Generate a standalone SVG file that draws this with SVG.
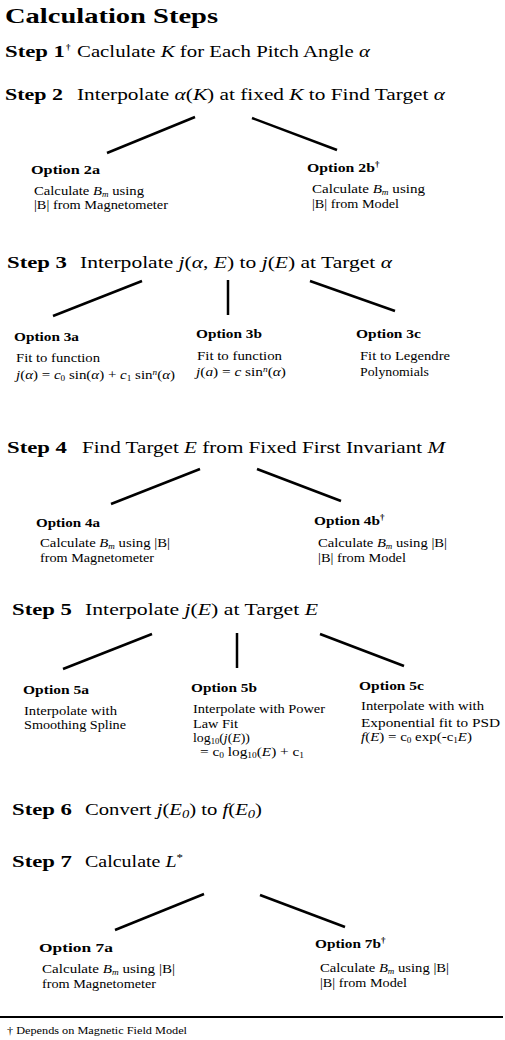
<svg xmlns="http://www.w3.org/2000/svg" width="505" height="1040" viewBox="0 0 505 1040">
<style>
text{font-family:"Liberation Serif","Times New Roman",serif;fill:#000}
.title{font-size:21px;font-weight:bold}
.step{font-size:17px;font-weight:bold}
.desc{font-size:17px}
.opt{font-size:13px;font-weight:bold}
.body{font-size:13px}
.foot{font-size:10px}
.it{font-style:italic}
.sub{font-size:8px}
.sup{font-size:8px}
.dag{font-size:9px;font-weight:bold}
.conn line{stroke:#000;stroke-width:2.5;stroke-linecap:butt}
</style>
<rect width="505" height="1040" fill="#fff"/>
<text id="title" class="title" x="5" y="23" textLength="213" lengthAdjust="spacingAndGlyphs">Calculation Steps</text>

<g id="step1">
<text class="step" x="5" y="57" textLength="60" lengthAdjust="spacingAndGlyphs">Step 1</text><text class="dag" x="66" y="50">†</text>
<text class="desc" x="77" y="57" textLength="293" lengthAdjust="spacingAndGlyphs">Caclulate <tspan class="it">K</tspan> for Each Pitch Angle <tspan class="it">α</tspan></text>
</g>
<g id="step2">
<text class="step" x="5" y="100" textLength="58" lengthAdjust="spacingAndGlyphs">Step 2</text>
<text class="desc" x="77" y="100" textLength="368" lengthAdjust="spacingAndGlyphs">Interpolate <tspan class="it">α</tspan>(<tspan class="it">K</tspan>) at fixed <tspan class="it">K</tspan> to Find Target <tspan class="it">α</tspan></text>
</g>
<g id="opt2a">
<text class="opt" x="31" y="174" textLength="69" lengthAdjust="spacingAndGlyphs">Option 2a</text>
<text class="body" x="34" y="195" textLength="110" lengthAdjust="spacingAndGlyphs">Calculate <tspan class="it">B</tspan><tspan class="it sub" baseline-shift="-2">m</tspan> using</text>
<text class="body" x="34" y="209" textLength="134" lengthAdjust="spacingAndGlyphs">|B| from Magnetometer</text>
</g>
<g id="opt2b">
<text class="opt" x="307" y="172" textLength="68" lengthAdjust="spacingAndGlyphs">Option 2b</text><text class="dag" x="375" y="167">†</text>
<text class="body" x="312" y="193" textLength="113" lengthAdjust="spacingAndGlyphs">Calculate <tspan class="it">B</tspan><tspan class="it sub" baseline-shift="-2">m</tspan> using</text>
<text class="body" x="312" y="208" textLength="87" lengthAdjust="spacingAndGlyphs">|B| from Model</text>
</g>

<g id="step3">
<text class="step" x="7" y="268" textLength="60" lengthAdjust="spacingAndGlyphs">Step 3</text>
<text class="desc" x="80" y="268" textLength="312" lengthAdjust="spacingAndGlyphs">Interpolate <tspan class="it">j</tspan>(<tspan class="it">α</tspan>, <tspan class="it">E</tspan>) to <tspan class="it">j</tspan>(<tspan class="it">E</tspan>) at Target <tspan class="it">α</tspan></text>
</g>
<g id="opt3a">
<text class="opt" x="14" y="341" textLength="65" lengthAdjust="spacingAndGlyphs">Option 3a</text>
<text class="body" x="16" y="362" textLength="84" lengthAdjust="spacingAndGlyphs">Fit to function</text>
<text class="body" x="16" y="379" textLength="159" lengthAdjust="spacingAndGlyphs"><tspan class="it">j</tspan>(<tspan class="it">α</tspan>) = <tspan class="it">c</tspan><tspan class="sub" baseline-shift="-2">0</tspan> sin(<tspan class="it">α</tspan>) + <tspan class="it">c</tspan><tspan class="sub" baseline-shift="-2">1</tspan> sin<tspan class="it sup" baseline-shift="4">n</tspan>(<tspan class="it">α</tspan>)</text>
</g>
<g id="opt3b">
<text class="opt" x="196" y="338" textLength="66" lengthAdjust="spacingAndGlyphs">Option 3b</text>
<text class="body" x="197" y="360" textLength="85" lengthAdjust="spacingAndGlyphs">Fit to function</text>
<text class="body" x="196" y="376" textLength="90" lengthAdjust="spacingAndGlyphs"><tspan class="it">j</tspan>(<tspan class="it">a</tspan>) = <tspan class="it">c</tspan> sin<tspan class="it sup" baseline-shift="4">n</tspan>(<tspan class="it">α</tspan>)</text>
</g>
<g id="opt3c">
<text class="opt" x="356" y="338" textLength="65" lengthAdjust="spacingAndGlyphs">Option 3c</text>
<text class="body" x="360" y="360" textLength="90" lengthAdjust="spacingAndGlyphs">Fit to Legendre</text>
<text class="body" x="360" y="376" textLength="69" lengthAdjust="spacingAndGlyphs">Polynomials</text>
</g>

<g id="step4">
<text class="step" x="7" y="453" textLength="60" lengthAdjust="spacingAndGlyphs">Step 4</text>
<text class="desc" x="82" y="453" textLength="363" lengthAdjust="spacingAndGlyphs">Find Target <tspan class="it">E</tspan> from Fixed First Invariant <tspan class="it">M</tspan></text>
</g>
<g id="opt4a">
<text class="opt" x="36" y="527" textLength="64" lengthAdjust="spacingAndGlyphs">Option 4a</text>
<text class="body" x="40" y="547" textLength="130" lengthAdjust="spacingAndGlyphs">Calculate <tspan class="it">B</tspan><tspan class="it sub" baseline-shift="-2">m</tspan> using |B|</text>
<text class="body" x="40" y="562" textLength="114" lengthAdjust="spacingAndGlyphs">from Magnetometer</text>
</g>
<g id="opt4b">
<text class="opt" x="314" y="525" textLength="66" lengthAdjust="spacingAndGlyphs">Option 4b</text><text class="dag" x="380" y="520">†</text>
<text class="body" x="318" y="547" textLength="129" lengthAdjust="spacingAndGlyphs">Calculate <tspan class="it">B</tspan><tspan class="it sub" baseline-shift="-2">m</tspan> using |B|</text>
<text class="body" x="318" y="562" textLength="88" lengthAdjust="spacingAndGlyphs">|B| from Model</text>
</g>

<g id="step5">
<text class="step" x="12" y="615" textLength="60" lengthAdjust="spacingAndGlyphs">Step 5</text>
<text class="desc" x="85" y="615" textLength="233" lengthAdjust="spacingAndGlyphs">Interpolate <tspan class="it">j</tspan>(<tspan class="it">E</tspan>) at Target <tspan class="it">E</tspan></text>
</g>
<g id="opt5a">
<text class="opt" x="23" y="694" textLength="66" lengthAdjust="spacingAndGlyphs">Option 5a</text>
<text class="body" x="24" y="715" textLength="93" lengthAdjust="spacingAndGlyphs">Interpolate with</text>
<text class="body" x="24" y="729" textLength="102" lengthAdjust="spacingAndGlyphs">Smoothing Spline</text>
</g>
<g id="opt5b">
<text class="opt" x="191" y="692" textLength="66" lengthAdjust="spacingAndGlyphs">Option 5b</text>
<text class="body" x="193" y="713" textLength="132" lengthAdjust="spacingAndGlyphs">Interpolate with Power</text>
<text class="body" x="193" y="728" textLength="45" lengthAdjust="spacingAndGlyphs">Law Fit</text>
<text class="body" x="193" y="742" textLength="57" lengthAdjust="spacingAndGlyphs">log<tspan class="sub" baseline-shift="-2">10</tspan>(<tspan class="it">j</tspan>(<tspan class="it">E</tspan>))</text>
<text class="body" x="200" y="756" textLength="104" lengthAdjust="spacingAndGlyphs">= c<tspan class="sub" baseline-shift="-2">0</tspan> log<tspan class="sub" baseline-shift="-2">10</tspan>(<tspan class="it">E</tspan>) + c<tspan class="sub" baseline-shift="-2">1</tspan></text>
</g>
<g id="opt5c">
<text class="opt" x="359" y="690" textLength="65" lengthAdjust="spacingAndGlyphs">Option 5c</text>
<text class="body" x="361" y="710" textLength="123" lengthAdjust="spacingAndGlyphs">Interpolate with with</text>
<text class="body" x="361" y="727" textLength="139" lengthAdjust="spacingAndGlyphs">Exponential fit to PSD</text>
<text class="body" x="361" y="741" textLength="111" lengthAdjust="spacingAndGlyphs"><tspan class="it">f</tspan>(<tspan class="it">E</tspan>) = c<tspan class="sub" baseline-shift="-2">0</tspan> exp(-c<tspan class="sub" baseline-shift="-2">1</tspan><tspan class="it">E</tspan>)</text>
</g>

<g id="step6">
<text class="step" x="12" y="815" textLength="60" lengthAdjust="spacingAndGlyphs">Step 6</text>
<text class="desc" x="85" y="815" textLength="177" lengthAdjust="spacingAndGlyphs">Convert <tspan class="it">j</tspan>(<tspan class="it">E</tspan><tspan class="it" font-size="12" baseline-shift="-3">0</tspan>) to <tspan class="it">f</tspan>(<tspan class="it">E</tspan><tspan class="it" font-size="12" baseline-shift="-3">0</tspan>)</text>
</g>

<g id="step7">
<text class="step" x="12" y="867" textLength="60" lengthAdjust="spacingAndGlyphs">Step 7</text>
<text class="desc" x="85" y="867" textLength="98" lengthAdjust="spacingAndGlyphs">Calculate <tspan class="it">L</tspan><tspan font-size="11" baseline-shift="6">*</tspan></text>
</g>
<g id="opt7a">
<text class="opt" x="39" y="952" textLength="74" lengthAdjust="spacingAndGlyphs">Option 7a</text>
<text class="body" x="42" y="973" textLength="133" lengthAdjust="spacingAndGlyphs">Calculate <tspan class="it">B</tspan><tspan class="it sub" baseline-shift="-2">m</tspan> using |B|</text>
<text class="body" x="42" y="988" textLength="114" lengthAdjust="spacingAndGlyphs">from Magnetometer</text>
</g>
<g id="opt7b">
<text class="opt" x="315" y="948" textLength="66" lengthAdjust="spacingAndGlyphs">Option 7b</text><text class="dag" x="381" y="943">†</text>
<text class="body" x="320" y="972" textLength="129" lengthAdjust="spacingAndGlyphs">Calculate <tspan class="it">B</tspan><tspan class="it sub" baseline-shift="-2">m</tspan> using |B|</text>
<text class="body" x="320" y="987" textLength="87" lengthAdjust="spacingAndGlyphs">|B| from Model</text>
</g>

<g id="connectors" class="conn">
<line x1="107" y1="153" x2="195" y2="117"/>
<line x1="252" y1="118" x2="337" y2="150"/>
<line x1="53" y1="316" x2="142" y2="281"/>
<line x1="228" y1="280" x2="228" y2="315"/>
<line x1="310" y1="281" x2="395" y2="311"/>
<line x1="111" y1="504" x2="200" y2="469"/>
<line x1="257" y1="469" x2="341" y2="501"/>
<line x1="63" y1="669" x2="152" y2="634"/>
<line x1="237" y1="633" x2="237" y2="668"/>
<line x1="320" y1="634" x2="404" y2="666"/>
<line x1="115" y1="930" x2="204" y2="894"/>
<line x1="260" y1="895" x2="345" y2="927"/>
</g>

<line id="rule" x1="0" y1="1017" x2="503" y2="1017" stroke="#000" stroke-width="2"/>
<text id="footnote" class="foot" x="7" y="1034" textLength="180" lengthAdjust="spacingAndGlyphs">† Depends on Magnetic Field Model</text>
</svg>
